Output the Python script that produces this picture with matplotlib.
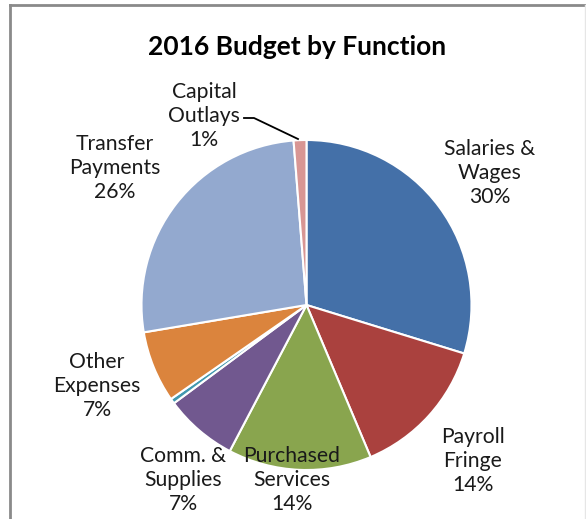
import matplotlib
matplotlib.use("Agg")
import matplotlib.pyplot as plt
from matplotlib.lines import Line2D

# ---- data ----
categories = ["Salaries &\nWages", "Payroll\nFringe", "Purchased\nServices",
              "Comm. &\nSupplies", "", "Other\nExpenses",
              "Transfer\nPayments", "Capital\nOutlays"]
values = [29.75, 13.9, 14.05, 7.15, 0.5, 7.0, 26.4, 1.25]
colors = ["#4470A8", "#AA413E", "#89A54E", "#71588F", "#4198AF",
          "#DB843D", "#93A9CF", "#D89694"]
title = "2016 Budget by Function"

# ---- layout (pixel coordinates, y from top) ----
W, H = 586, 519
center = (306.5, 305)
radius = 165
label_pos = [(490, 173), (473, 461), (292, 480), (183, 480), None,
             (97, 386), (115, 168), (204, 116)]

plt.rcParams['font.family'] = ['Lato', 'DejaVu Sans']
fig = plt.figure(figsize=(W / 100, H / 100), dpi=100)
ax = fig.add_axes([0, 0, 1, 1])
ax.set_xlim(0, W)
ax.set_ylim(0, H)
ax.set_aspect('equal')
ax.axis('off')

wedges, _ = ax.pie(values, colors=colors, startangle=90, counterclock=False,
                   center=(center[0], H - center[1]), radius=radius,
                   wedgeprops=dict(edgecolor='white', linewidth=1.5))
ax.set_xlim(0, W)
ax.set_ylim(0, H)

for cat, v, pos in zip(categories, values, label_pos):
    if pos is None or not cat:
        continue
    ax.text(pos[0], H - pos[1], f"{cat}\n{round(v)}%", ha='center', va='center',
            fontsize=15.2, color='#1a1a1a', linespacing=1.22)

# leader line for Capital Outlays
ax.add_line(Line2D([244, 254, 298], [H - 118, H - 118, H - 139],
                   color='black', linewidth=1.3))

ax.text(297, H - 47, title, ha='center', va='center', fontsize=19,
        fontweight='bold', color='black')

# frame
ax.add_line(Line2D([10, 10], [H - 5, -5], color='#8a8a8a', linewidth=2))
ax.add_line(Line2D([10, 586], [H - 5, H - 5], color='#8a8a8a', linewidth=2))
ax.add_line(Line2D([585, 585], [H - 5, -5], color='#e6e6e6', linewidth=1))

fig.savefig("out.png", dpi=100)
